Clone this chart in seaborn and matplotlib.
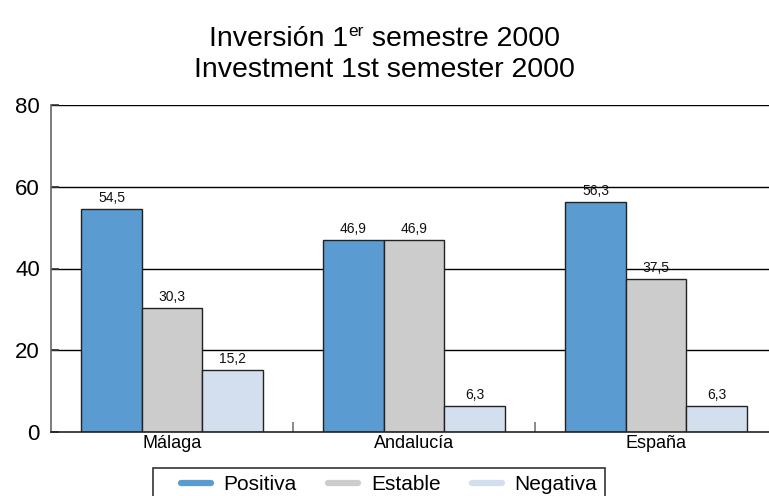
import matplotlib
matplotlib.use("Agg")
import matplotlib.pyplot as plt
from matplotlib.lines import Line2D
from matplotlib.patches import Rectangle
from matplotlib.ticker import FixedLocator
import seaborn as sns
import pandas as pd

regions = ["Málaga", "Andalucía", "España"]
series = ["Positiva", "Estable", "Negativa"]
positiva = [54.5, 46.9, 56.3]
estable = [30.3, 46.9, 37.5]
negativa = [15.2, 6.3, 6.3]
colors = ["#5A9BD1", "#CCCCCC", "#D3DFEE"]
yticks = [0, 20, 40, 60, 80]

rows = []
for name, vals in zip(series, [positiva, estable, negativa]):
    for reg, v in zip(regions, vals):
        rows.append({"region": reg, "serie": name, "valor": v})
df = pd.DataFrame(rows)

sns.set_theme(style="white")
plt.rcParams["font.family"] = ["Liberation Sans", "DejaVu Sans"]
plt.rcParams["text.color"] = "black"
plt.rcParams["xtick.labelcolor"] = "black"
plt.rcParams["ytick.labelcolor"] = "black"

W, H = 769, 496
fig = plt.figure(figsize=(W / 100, H / 100), dpi=100)
ax = fig.add_axes([51 / W, 1 - 432 / H, 726 / W, (432 - 105) / H])

ax.set_axisbelow(True)
for t in yticks[1:]:
    ax.axhline(t, color="black", lw=1, zorder=0)

sns.barplot(data=df, x="region", y="valor", hue="serie", order=regions,
            hue_order=series, palette=colors, saturation=1, width=0.75,
            edgecolor="#222222", linewidth=1, ax=ax, legend=False, zorder=2)

for cont in ax.containers:
    ax.bar_label(cont, labels=[f"{v:.1f}".replace(".", ",") for v in cont.datavalues],
                 padding=3, fontsize=10, color="#111111")

ax.set_xlim(-0.5, 2.5)
ax.set_ylim(0, 80)
ax.set_yticks(yticks)
ax.set_xlabel("")
ax.set_ylabel("")
ax.tick_params(axis="y", direction="in", length=6, width=1.2, color="#333333",
               labelsize=16, pad=8, left=True)
ax.tick_params(axis="x", which="major", length=0, labelsize=13, pad=2)
ax.xaxis.set_minor_locator(FixedLocator([0.5, 1.5]))
ax.tick_params(axis="x", which="minor", direction="in", length=7, width=1.2,
               color="#777777", bottom=True)

for side in ["top", "right"]:
    ax.spines[side].set_visible(False)
ax.spines["left"].set_color("#666666")
ax.spines["left"].set_linewidth(1.2)
ax.spines["bottom"].set_color("#222222")
ax.spines["bottom"].set_linewidth(1.2)

# Two-line title; the first line carries a superscript ordinal
renderer = fig.canvas.get_renderer()
title_size = 20.5
parts = [("Inversión 1", title_size, 0), ("er", 12.5, 10),
         (" semestre 2000", title_size, 0)]
texts = [fig.text(0, (H - 46 + rise) / H, s, ha="left", va="baseline",
                  fontsize=size) for s, size, rise in parts]
widths = [t.get_window_extent(renderer).width for t in texts]
x = (W - sum(widths)) / 2
for t, w in zip(texts, widths):
    t.set_x(x / W)
    x += w
fig.text(0.5, (H - 77) / H, "Investment 1st semester 2000",
         ha="center", va="baseline", fontsize=title_size)

# Legend with a square frame that runs off the bottom edge
handles = [Line2D([0], [0], color=c, lw=4.5) for c in colors]
leg = fig.legend(handles, series, loc="center left",
                 bbox_to_anchor=(181 / W, 1 - 485 / H), ncol=3,
                 fontsize=15, frameon=False, handlelength=1.45,
                 handletextpad=0.6, columnspacing=1.5, borderpad=0,
                 borderaxespad=0)
fig.add_artist(Rectangle((153 / W, -0.05), (605 - 153) / W, 0.05 + 1 - 468 / H,
                         transform=fig.transFigure, fill=False,
                         edgecolor="#333333", lw=1.2))

fig.savefig("out.png", dpi=100)
